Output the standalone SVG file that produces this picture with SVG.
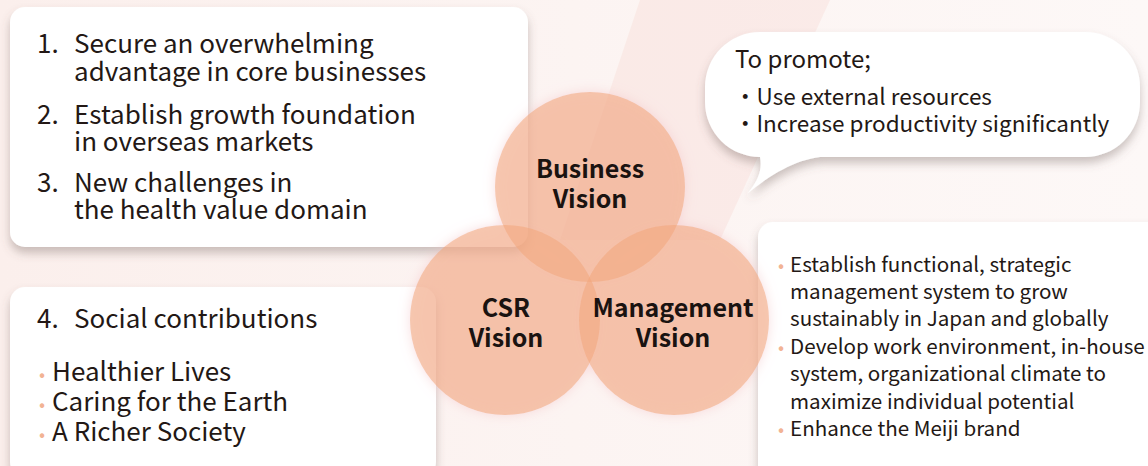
<svg xmlns="http://www.w3.org/2000/svg" width="1148" height="466" viewBox="0 0 1148 466">
<defs>
<style>
.t{font-family:"Noto Sans CJK JP","Liberation Sans",sans-serif;fill:#231815;}
.b1{font-size:26px;}
.b2{font-size:22.5px;}
.b3{font-size:20.6px;}
.hd{font-size:24px;}
.cv{font-family:"Noto Sans CJK JP","Liberation Sans",sans-serif;font-weight:bold;font-size:25px;fill:#1a1311;text-anchor:middle;}
.dot{fill:#f2b394;font-size:18px;}
.box{fill:#ffffff;}
.circ{fill:#f2a87f;fill-opacity:0.62;}
</style>
<filter id="sh" x="-10%" y="-10%" width="120%" height="130%">
<feDropShadow dx="0" dy="6" stdDeviation="5" flood-color="#6b5a55" flood-opacity="0.35"/>
</filter>
<filter id="glow" x="-20%" y="-20%" width="140%" height="140%">
<feGaussianBlur in="SourceAlpha" stdDeviation="6" result="b"/>
<feFlood flood-color="#f3c3c8" flood-opacity="0.9"/>
<feComposite in2="b" operator="in" result="g"/>
<feComposite in="g" in2="SourceAlpha" operator="out" result="go"/>
<feMerge><feMergeNode in="go"/><feMergeNode in="SourceGraphic"/></feMerge>
</filter>
<linearGradient id="bg" x1="0" y1="0" x2="1" y2="0">
<stop offset="0" stop-color="#fbefec"/>
<stop offset="0.5" stop-color="#fcf4f2"/>
<stop offset="1" stop-color="#fdf8f7"/>
</linearGradient>
</defs>
<rect width="1148" height="466" fill="url(#bg)"/>
<polygon points="640,0 830,0 720,240 560,240" fill="#f6d6d2" opacity="0.35"/>
<polygon points="800,230 960,230 900,466 760,466" fill="#f6d6d2" opacity="0.25"/>

<g id="box-business">
<rect class="box" x="10" y="7" width="518" height="240" rx="15" filter="url(#sh)"/>
<text class="t b1"><tspan x="37" y="53">1.</tspan><tspan x="74" y="53">Secure an overwhelming</tspan></text>
<text class="t b1" x="74" y="81">advantage in core businesses</text>
<text class="t b1"><tspan x="37" y="124">2.</tspan><tspan x="74" y="124">Establish growth foundation</tspan></text>
<text class="t b1" x="74" y="151">in overseas markets</text>
<text class="t b1"><tspan x="37" y="192">3.</tspan><tspan x="74" y="192">New challenges in</tspan></text>
<text class="t b1" x="74" y="219">the health value domain</text>
</g>

<g id="box-csr">
<rect class="box" x="10" y="287" width="426" height="190" rx="15" filter="url(#sh)"/>
<text class="t b1"><tspan x="37" y="328">4.</tspan><tspan x="74" y="328">Social contributions</tspan></text>
<text class="t b1"><tspan class="dot" x="39" y="381">•</tspan><tspan x="52" y="381">Healthier Lives</tspan></text>
<text class="t b1"><tspan class="dot" x="39" y="411">•</tspan><tspan x="52" y="411">Caring for the Earth</tspan></text>
<text class="t b1"><tspan class="dot" x="39" y="441">•</tspan><tspan x="52" y="441">A Richer Society</tspan></text>
</g>

<g id="bubble-promote">
<path class="box" filter="url(#sh)" d="M760 32 H1085 A55 55 0 0 1 1140 87 V102 A55 55 0 0 1 1085 157 H820 C795 160 770 175 748 193 C760 178 762 168 760 157 A55 55 0 0 1 705 102 V87 A55 55 0 0 1 760 32 Z"/>
<text class="t hd" x="735" y="68">To promote;</text>
<text class="t b2" x="734" y="105">・Use external resources</text>
<text class="t b2" x="734" y="132">・Increase productivity significantly</text>
</g>

<g id="box-management">
<rect class="box" x="758" y="222" width="410" height="260" rx="15" filter="url(#sh)"/>
<text class="t b3"><tspan class="dot" x="778" y="272">•</tspan><tspan x="790" y="272">Establish functional, strategic</tspan></text>
<text class="t b3" x="790" y="299">management system to grow</text>
<text class="t b3" x="790" y="326">sustainably in Japan and globally</text>
<text class="t b3"><tspan class="dot" x="778" y="354">•</tspan><tspan x="790" y="354">Develop work environment, in-house</tspan></text>
<text class="t b3" x="790" y="381">system, organizational climate to</text>
<text class="t b3" x="790" y="409">maximize individual potential</text>
<text class="t b3"><tspan class="dot" x="778" y="436">•</tspan><tspan x="790" y="436">Enhance the Meiji brand</tspan></text>
</g>

<g id="venn" filter="url(#glow)">
<g id="circle-business"><circle class="circ" cx="590" cy="187" r="95"/></g>
<g id="circle-csr"><circle class="circ" cx="505" cy="320" r="95"/></g>
<g id="circle-management"><circle class="circ" cx="674" cy="320" r="95"/></g>
</g>
<g id="venn-labels">
<text class="cv" x="590" y="178">Business</text>
<text class="cv" x="590" y="208">Vision</text>
<text class="cv" x="506" y="317">CSR</text>
<text class="cv" x="506" y="347">Vision</text>
<text class="cv" x="673" y="317">Management</text>
<text class="cv" x="673" y="347">Vision</text>
</g>
<g id="connectors"/>
</svg>
